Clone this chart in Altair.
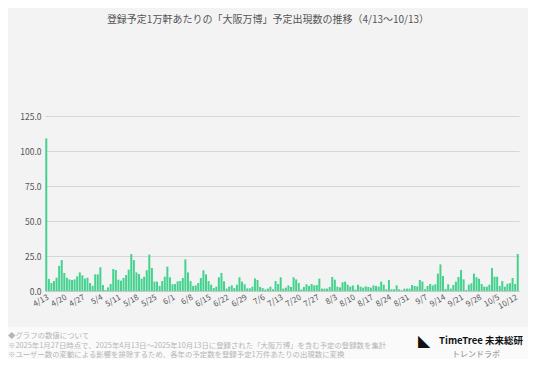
import altair as alt
import pandas as pd

title_text = "登録予定1万軒あたりの「大阪万博」予定出現数の推移（4/13〜10/13）"
dates = [f"{d.month}/{d.day}" for d in pd.date_range("2025-04-13", "2025-10-13")]
values = [
    109, 8.6, 5.7, 7.1, 9.5, 17.9, 22.1, 12.9, 9.5, 8.3,
    7.9, 8.3, 10.5, 13.3, 11.2, 8.8, 9.5, 5.7, 3.8, 11.9,
    11.9, 16.9, 4.3, 0.7, 2.6, 5.0, 15.7, 15.0, 8.1, 7.4,
    9.3, 11.4, 15.2, 26.4, 22.1, 13.3, 12.1, 8.8, 10.2, 14.8,
    26.0, 16.4, 6.7, 6.7, 3.6, 7.1, 10.2, 17.4, 9.8, 4.8,
    5.0, 6.9, 7.1, 9.3, 22.6, 13.3, 7.1, 3.6, 4.0, 5.7,
    9.3, 14.8, 11.9, 7.1, 4.5, 2.1, 3.1, 9.8, 12.9, 6.9,
    1.7, 3.1, 4.0, 2.1, 4.5, 9.8, 6.7, 4.8, 1.9, 1.9,
    3.1, 9.0, 7.9, 2.9, 2.1, 1.0, 1.7, 3.1, 1.2, 7.1,
    5.0, 9.8, 1.7, 2.4, 4.0, 2.9, 9.8, 8.3, 5.7, 1.0,
    2.9, 4.8, 3.6, 5.0, 4.0, 4.3, 8.8, 1.7, 1.7, 1.7,
    2.9, 10.0, 8.1, 3.1, 2.6, 6.2, 6.7, 4.5, 3.1, 4.0,
    1.0, 4.5, 3.1, 2.4, 3.3, 2.9, 2.4, 4.0, 3.6, 3.1,
    6.7, 4.5, 1.2, 7.9, 1.2, 1.2, 4.0, 1.2, 0.5, 1.7,
    1.7, 1.7, 4.3, 3.6, 3.3, 7.9, 6.7, 1.2, 3.6, 5.0,
    4.0, 4.8, 12.4, 19.0, 10.7, 1.4, 4.8, 1.7, 4.3, 6.7,
    10.0, 15.0, 8.3, 0.7, 4.5, 5.5, 12.4, 9.8, 8.8, 5.0,
    3.1, 3.1, 4.5, 16.4, 10.2, 10.2, 3.6, 7.1, 3.1, 5.2,
    5.5, 9.3, 5.0, 26.4,
]
tick_labels = dates[::7]
y_ticks = [0, 25, 50, 75, 100, 125]
note_lines = [
    "◆グラフの数値について",
    "※2025年1月27日時点で、2025年4月13日～2025年10月13日に登録された「大阪万博」を含む予定の登録数を集計",
    "※ユーザー数の変動による影響を排除するため、各年の予定数を登録予定1万件あたりの出現数に変換",
]
brand = "TimeTree 未来総研"
brand_sub = "トレンドラボ"

FONT = "Noto Sans CJK JP"
W, H = 474, 175

df = pd.DataFrame({"date": dates, "value": values})
one = pd.DataFrame({"a": [0]})

bars = alt.Chart(df).mark_bar(color="#45d28f").encode(
    x=alt.X(
        "date:N",
        sort=dates,
        scale=alt.Scale(paddingInner=0.22, paddingOuter=0.1),
        axis=alt.Axis(
            values=tick_labels,
            labelAngle=-30,
            labelAlign="right",
            labelBaseline="top",
            labelFontSize=8,
            labelColor="#555555",
            labelFont=FONT,
            labelPadding=2,
            ticks=False,
            domainColor="#c8c8c8",
            title=None,
        ),
    ),
    y=alt.Y(
        "value:Q",
        scale=alt.Scale(domain=[0, 125], nice=False),
        axis=alt.Axis(
            values=y_ticks,
            format=".1f",
            labelFontSize=8.5,
            labelColor="#555555",
            labelFont=FONT,
            labelPadding=4,
            ticks=False,
            domain=False,
            gridColor="#d6d6d6",
            gridWidth=1.2,
            title=None,
        ),
    ),
)

footer_bg = alt.Chart(one).mark_rect(color="#fafafa").encode(
    x=alt.value(-40), x2=alt.value(W + 20), y=alt.value(211), y2=alt.value(260)
)

title = alt.Chart(one).mark_text(
    text=title_text, fontSize=10, font=FONT, color="#555555", align="center", baseline="middle"
).encode(x=alt.value(223), y=alt.value(-96))

notes = [
    alt.Chart(one).mark_text(
        text=t, fontSize=7.4, font=FONT, color="#b5b5b5", align="left", baseline="middle"
    ).encode(x=alt.value(-37), y=alt.value(yy))
    for t, yy in zip(note_lines, [220, 229.5, 239])
]

icon = alt.Chart(one).mark_text(
    text="◣", fontSize=16, color="#111111", align="center", baseline="middle"
).encode(x=alt.value(379), y=alt.value(225))

brand_t = alt.Chart(one).mark_text(
    text=brand, fontSize=9.5, font=FONT, fontWeight="bold", color="#111111", align="right", baseline="middle"
).encode(x=alt.value(478), y=alt.value(225))

brand_s = alt.Chart(one).mark_text(
    text=brand_sub, fontSize=8, font=FONT, color="#888888", align="center", baseline="middle"
).encode(x=alt.value(431), y=alt.value(239))

chart = alt.layer(footer_bg, bars, title, *notes, icon, brand_t, brand_s).properties(
    width=W,
    height=H,
    background="#f3f3f3",
    padding={"left": 37, "top": 108, "right": 9, "bottom": 68},
    autosize=alt.AutoSizeParams(type="none"),
).configure_view(stroke=None)

chart.save("out.html", embed_options={"renderer": "svg", "actions": False})
